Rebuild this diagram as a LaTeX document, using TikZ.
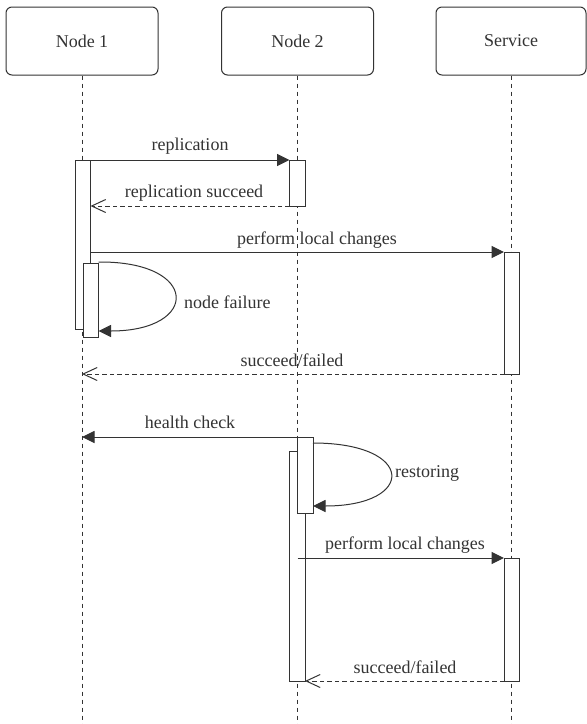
\documentclass[tikz,border=0pt]{standalone}
\usepackage{fontspec}
\setmainfont{Liberation Serif}
\usetikzlibrary{arrows.meta}
\definecolor{ink}{HTML}{333333}
\tikzset{
  x=1pt, y=-1pt,
  every node/.style={text=ink},
  head/.style={draw=ink, line width=1pt, rounded corners=6pt, fill=white, minimum width=152pt, minimum height=68pt, inner sep=0pt, font=\fontsize{18}{20}\selectfont},
  lifeline/.style={draw=ink, line width=1pt, dash pattern=on 4pt off 4pt},
  act/.style={draw=ink, line width=1pt, fill=white, minimum width=15.5pt, inner sep=0pt, outer sep=0pt, anchor=north west},
  msg/.style={draw=ink, line width=1pt, -{Triangle[length=12.5pt,width=12pt]}},
  reply/.style={draw=ink, line width=1pt, dash pattern=on 4.5pt off 3pt, -{Straight Barb[length=14pt,width=13pt,line width=1pt]}},
  lbl/.style={font=\fontsize{18}{20}\selectfont, inner sep=0pt},
}
\begin{document}
\begin{tikzpicture}
\useasboundingbox (0,0) rectangle (587,724);
% headers
\node[head] (n1) at (82,41) {Node 1};
\node[head] (n2) at (297.5,41) {Node 2};
\node[head, minimum width=150pt] (sv) at (511,41) {Service};
\coordinate (e1) at (82,724);
\coordinate (e2) at (297.5,724);
\coordinate (e3) at (511,724);
\draw[lifeline] (n1.south) -- (e1);
\draw[lifeline] (n2.south) -- (e2);
\draw[lifeline] (sv.south) -- (e3);
% activations
\node[act, minimum height=169pt] (n1a) at (75,160) {};
\node[act, minimum height=74pt] (n1b) at (83,263) {};
\node[act, minimum height=46pt] (n2a) at (289.5,160) {};
\node[act, minimum height=122pt] (s1) at (504,252) {};
\node[act, minimum height=230pt] (n2c) at (289.5,451) {};
\node[act, minimum height=76pt] (n2b) at (297.5,437) {};
\node[act, minimum height=123pt] (s2) at (504,558) {};
% messages
\draw[msg] (n1a.north east) -- (n2a.north west);
\node[lbl] (l1) at (190,146) {replication};
\draw[reply] (n2a.south west) -- (n1a.east |- n2a.south west);
\node[lbl] (l2) at (194,193) {replication succeed};
\draw[msg] (n1a.east |- s1.north west) -- (s1.north west);
\node[lbl] (l3) at (317,240) {perform local changes};
\coordinate (f1) at ([yshift=1pt]n1b.north east);
\coordinate (f2) at ([yshift=6pt]n1b.south east);
\draw[msg] (f1) .. controls (200,261) and (200,331) .. (f2);
\node[lbl, anchor=west] (l4) at (184,302) {node failure};
\draw[reply] (s1.south west) -- (n1 |- s1.south west);
\node[lbl] (l5) at (292,360) {succeed/failed};
\draw[msg] (n2b.north west) -- (n1 |- n2b.north west);
\node[lbl] (l6) at (190,422) {health check};
\coordinate (r1) at ([yshift=-6pt]n2b.north east);
\coordinate (r2) at ([yshift=7pt]n2b.south east);
\draw[msg] (r1) .. controls (416,443) and (416,506) .. (r2);
\node[lbl, anchor=west] (l7) at (395,473) {restoring};
\draw[msg] (n2 |- s2.north west) -- (s2.north west);
\node[lbl] (l8) at (405,545) {perform local changes};
\draw[reply] (s2.south west) -- (n2c.south east);
\node[lbl] (l9) at (405,667) {succeed/failed};
\end{tikzpicture}
\end{document}
